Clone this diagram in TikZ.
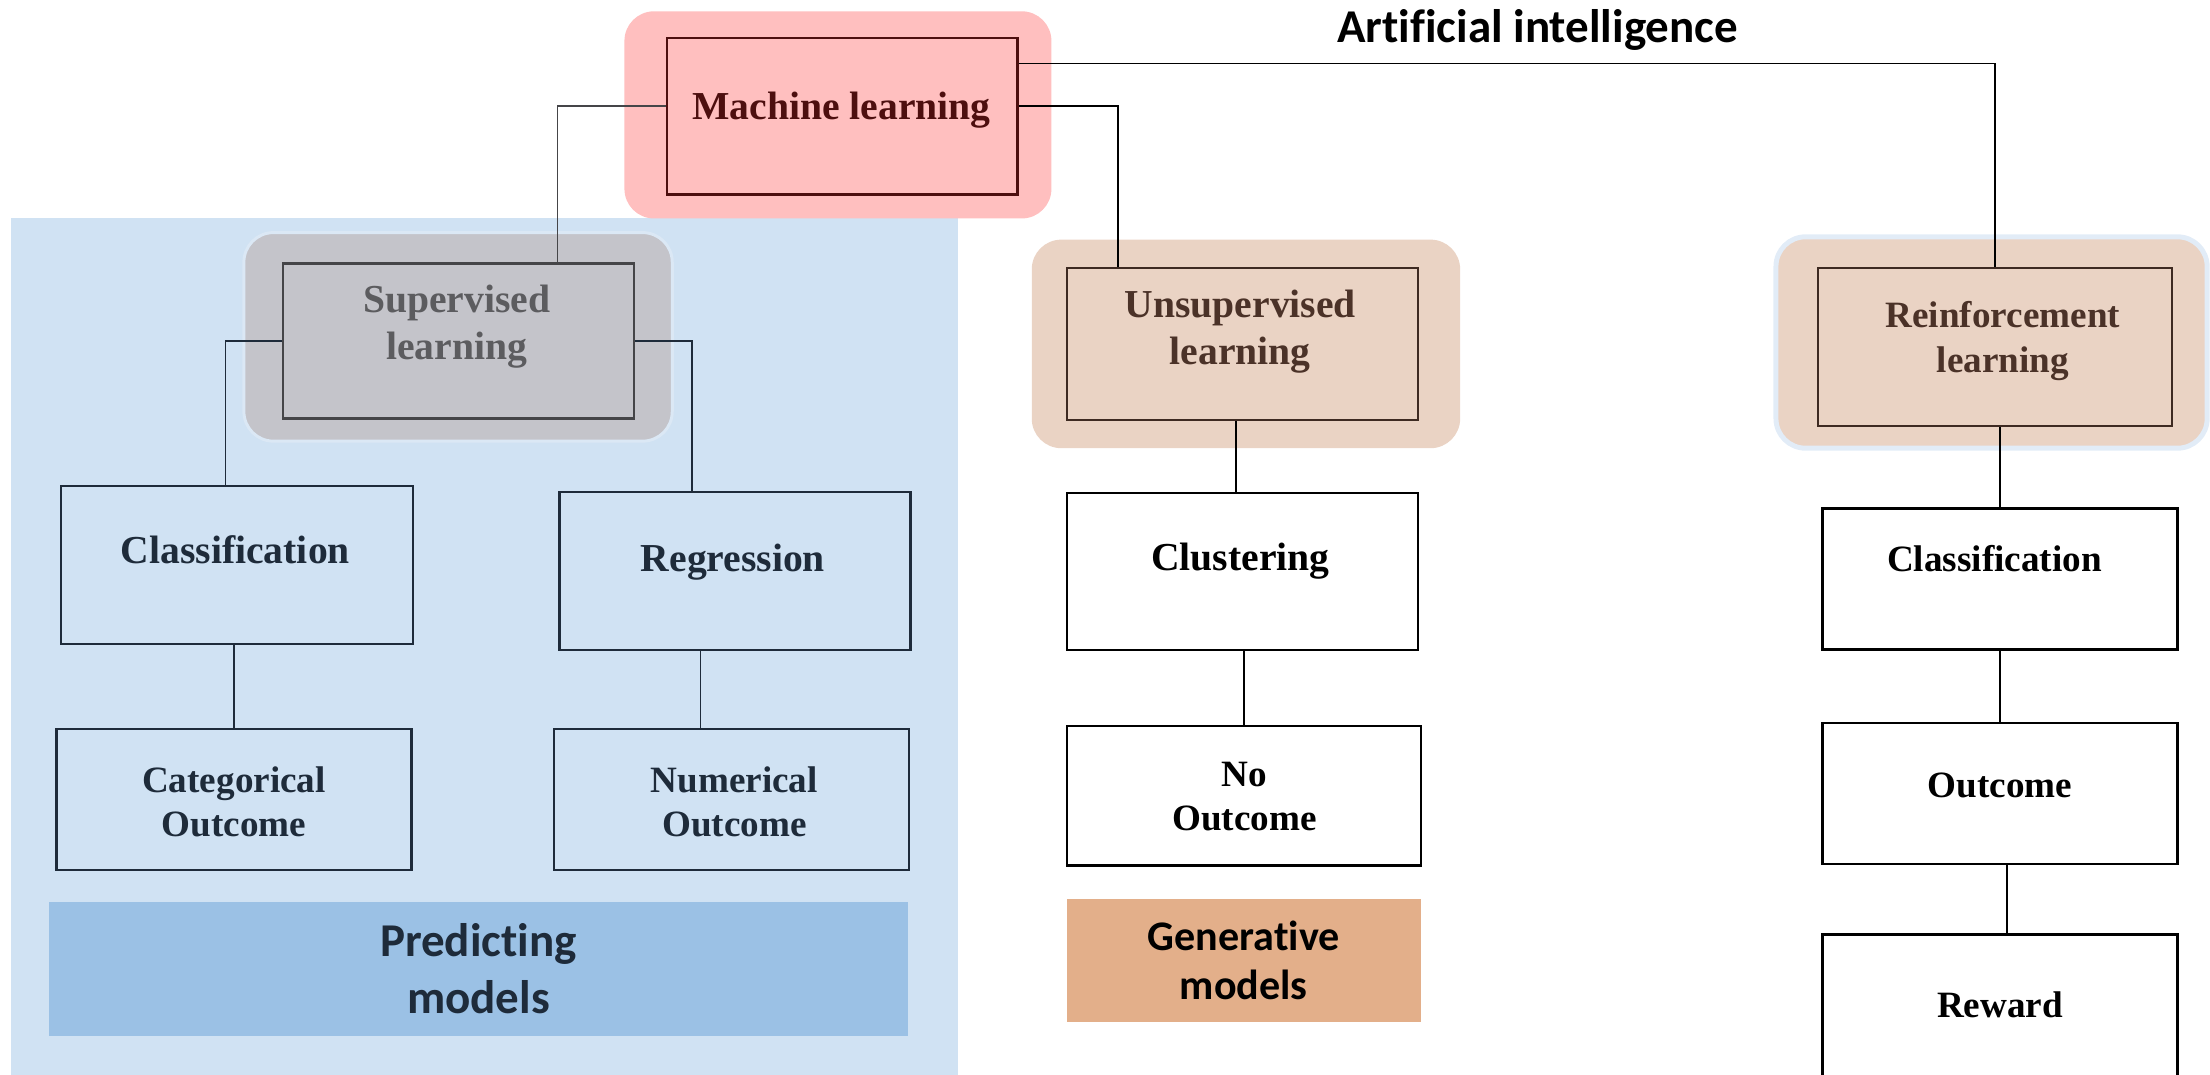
\documentclass[tikz,border=0pt]{standalone}
\usepackage{fontspec}
\setmainfont{Liberation Serif}
\newfontfamily\calibri[Ligatures=NoCommon]{Carlito}

\definecolor{bgblue}{RGB}{208,226,243}
\definecolor{predblue}{RGB}{155,193,229}
\definecolor{glowblue}{RGB}{226,236,247}
\definecolor{mlpink}{RGB}{255,191,191}
\definecolor{mldark}{RGB}{77,15,15}
\definecolor{supgray}{RGB}{196,196,202}
\definecolor{supdark}{RGB}{69,69,72}
\definecolor{suptext}{RGB}{92,92,95}
\definecolor{unsupbeige}{RGB}{234,211,196}
\definecolor{unsupdark}{RGB}{62,42,34}
\definecolor{unsuptext}{RGB}{75,50,40}
\definecolor{genorange}{RGB}{227,175,138}
\definecolor{navy}{RGB}{30,43,58}

\tikzset{
  glow/.style={rounded corners=0.42cm, inner sep=0pt},
  box/.style={draw, line width=0.9pt, inner sep=0pt},
  bigtext/.style={font=\fontsize{16}{19}\selectfont\bfseries, align=center, inner sep=0pt},
  smalltext/.style={font=\fontsize{15}{18}\selectfont\bfseries, align=center, inner sep=0pt},
  link/.style={line width=0.7pt},
  models/.style={inner sep=0pt, align=center, font=\calibri\fontsize{19}{23}\selectfont\bfseries}
}

\begin{document}
\begin{tikzpicture}[x=0.02cm, y=-0.02cm]
  \useasboundingbox (0,0) rectangle (1568,762);
  \clip (0,0) rectangle (1568,762);

  % area of the predicting models
  \fill[bgblue] (8,155) rectangle (680,780);

  % rounded backdrops
  \node[glow, fill=mlpink, minimum width=6.06cm, minimum height=2.94cm] (mlbg) at (594.5,81.5) {};
  \node[glow, fill=supgray, draw=glowblue!60!bgblue, line width=1.2pt, minimum width=6.08cm, minimum height=2.96cm] (supbg) at (325,239) {};
  \node[glow, fill=unsupbeige, minimum width=6.08cm, minimum height=2.96cm] (unsupbg) at (884,244) {};
  \node[glow, fill=unsupbeige, draw=glowblue, line width=2pt, minimum width=6.12cm, minimum height=3.0cm] (reinfbg) at (1413,243) {};

  % title
  \node[font=\calibri\fontsize{19}{22}\selectfont\bfseries, inner sep=0pt] (ai) at (1091,21) {Artificial intelligence};

  % learning types
  \node[box, draw=mldark, fill=mlpink, minimum width=4.98cm, minimum height=2.22cm] (ml) at (597.5,82.5) {};
  \node[bigtext, text=mldark] (mltxt) at (597,78) {Machine learning};
  \node[box, draw=supdark, fill=supgray, minimum width=4.98cm, minimum height=2.2cm] (sup) at (325.5,242) {};
  \node[bigtext, text=suptext] (suptxt) at (324,232) {Supervised\\learning};
  \node[box, draw=unsupdark, fill=unsupbeige, minimum width=4.98cm, minimum height=2.16cm] (unsup) at (881.5,244) {};
  \node[bigtext, text=unsuptext] (unsuptxt) at (880,235) {Unsupervised\\learning};
  \node[box, draw=unsupdark, fill=unsupbeige, minimum width=5.02cm, minimum height=2.24cm] (reinf) at (1415.5,246) {};
  \node[smalltext, text=unsuptext] (reinftxt) at (1421,242) {Reinforcement\\learning};

  % supervised branch
  \node[box, draw=navy, minimum width=5.0cm, minimum height=2.24cm] (cls) at (168,401) {};
  \node[bigtext, text=navy] (clstxt) at (167,390) {Classification};
  \node[box, draw=navy, minimum width=4.98cm, minimum height=2.24cm] (reg) at (521.5,405) {};
  \node[bigtext, text=navy] (regtxt) at (520,399) {Regression};
  \node[box, draw=navy, minimum width=5.04cm, minimum height=2.0cm] (cat) at (166,567) {};
  \node[smalltext, text=navy] (cattxt) at (166,569) {Categorical\\Outcome};
  \node[box, draw=navy, minimum width=5.04cm, minimum height=2.0cm] (num) at (519,567) {};
  \node[smalltext, text=navy] (numtxt) at (521,569) {Numerical\\Outcome};
  \node[models, fill=predblue, text=navy, minimum width=12.18cm, minimum height=1.9cm] (pred) at (339.5,687.5) {Predicting\\models};

  % unsupervised branch
  \node[box, minimum width=4.98cm, minimum height=2.22cm] (clu) at (881.5,405.5) {};
  \node[bigtext] (clutxt) at (880,398) {Clustering};
  \node[box, minimum width=5.02cm, minimum height=1.98cm] (noout) at (882.5,564.5) {};
  \node[smalltext] (noouttxt) at (883,565) {No\\Outcome};
  \node[models, fill=genorange, font=\calibri\fontsize{17}{20}\selectfont\bfseries, minimum width=5.02cm, minimum height=1.74cm] (gen) at (882.5,681.5) {Generative\\models};

  % reinforcement branch
  \node[box, line width=1.1pt, minimum width=5.04cm, minimum height=2.0cm] (rcls) at (1419,411) {};
  \node[smalltext] (rclstxt) at (1415,396) {Classification};
  \node[box, line width=1.1pt, minimum width=5.04cm, minimum height=2.0cm] (rout) at (1419,563) {};
  \node[smalltext] (routtxt) at (1419,557) {Outcome};
  \node[box, line width=1.1pt, minimum width=5.04cm, minimum height=2.4cm] (rew) at (1419,723) {};
  \node[smalltext] (rewtxt) at (1419,713) {Reward};

  % connectors
  \draw[link, draw=supdark] ([yshift=0.15cm]ml.west) -| ([xshift=1.4cm]sup.north);
  \draw[link] ([yshift=0.15cm]ml.east) -| ([xshift=-1.77cm]unsup.north);
  \draw[link] ([yshift=0.75cm]ml.east) -| (reinf.north);
  \draw[link, draw=navy] (sup.west) -| ([xshift=-0.16cm]cls.north);
  \draw[link, draw=navy] (sup.east) -| ([xshift=-0.61cm]reg.north);
  \draw[link, draw=navy] (cls.south -| cat.north) -- (cat.north);
  \draw[link, draw=navy] ([xshift=-0.44cm]reg.south -| num.north) -- ([xshift=-0.44cm]num.north);
  \draw[link] ([xshift=-0.09cm]unsup.south -| clu.north) -- ([xshift=-0.09cm]clu.north);
  \draw[link] (clu.south -| noout.north) -- (noout.north);
  \draw[link, line width=0.9pt] (reinf.south -| rcls.north) -- (rcls.north);
  \draw[link, line width=0.9pt] (rcls.south) -- (rout.north);
  \draw[link, line width=0.9pt] ([xshift=0.1cm]rout.south) -- ([xshift=0.1cm]rew.north);
\end{tikzpicture}
\end{document}
